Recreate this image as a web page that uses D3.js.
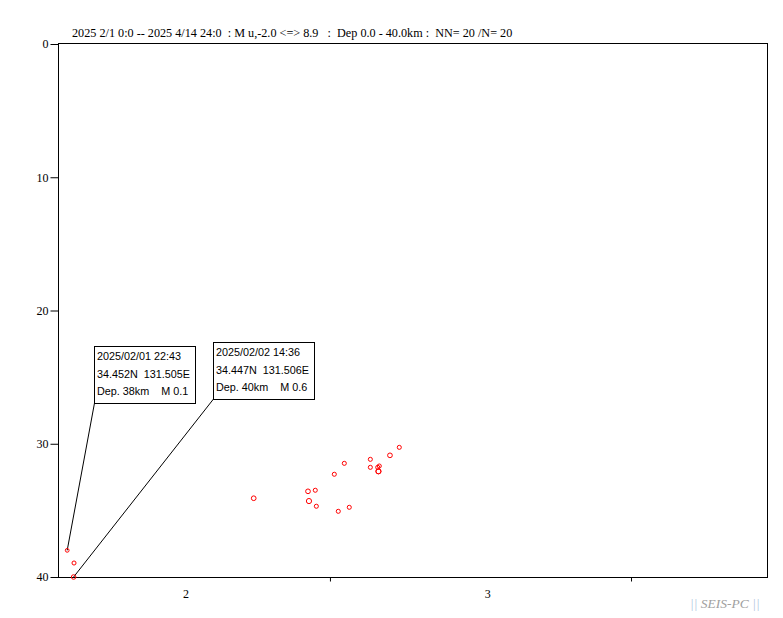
<!DOCTYPE html>
<html><head><meta charset="utf-8">
<script src="https://cdn.jsdelivr.net/npm/d3@7"></script>
<style>body{margin:0;background:#fff}svg{display:block}</style>
</head><body>
<svg id="c" width="783" height="618"></svg>
<script>
const titleText = "2025 2/1 0:0 -- 2025 4/14 24:0  : M u,-2.0 <=> 8.9   :  Dep 0.0 - 40.0km :  NN= 20 /N= 20";
const times = [
  "2025-02-01T22:43","2025-02-02T14:36","2025-02-02T15:35",
  "2025-02-21T03:37","2025-02-26T17:46","2025-02-27T11:46","2025-02-26T20:10",
  "2025-02-27T14:24","2025-03-01T20:38","2025-03-02T23:46","2025-03-01T10:48",
  "2025-03-02T11:31","2025-03-05T03:50","2025-03-05T03:50","2025-03-05T22:05",
  "2025-03-06T01:55","2025-03-05T23:31","2025-03-06T00:10","2025-03-07T04:19","2025-03-08T03:22"
];
const depths = [38,40,38.95,34.09,33.57,33.49,34.30,34.69,35.07,34.77,32.29,31.47,31.17,31.77,31.77,31.67,32.07,32.07,30.87,30.27];
const mags   = [0.1,0.6,0.3,0.7,0.7,0.3,1.0,0.3,0.3,0.3,0.3,0.3,0.3,0.3,0.3,0.3,0.9,0.9,0.7,0.3];
const yTicks = [0,10,20,30,40];
const xTickDates = ["2025-03-01T00:00","2025-04-01T00:00"];
const xLabels = ["2","3"];
const xLabelDates = ["2025-02-14T04:00","2025-03-17T06:00"];
const notes = [
  {idx:0, lines:["2025/02/01 22:43","34.452N  131.505E","Dep. 38km    M 0.1"]},
  {idx:1, lines:["2025/02/02 14:36","34.447N  131.506E","Dep. 40km    M 0.6"]}
];
const noteBoxes = [[94,346],[213,342]];

const parse = s => new Date(s + ":00Z");
const svg = d3.select("#c");
const L = 58, R = 767, T = 43, B = 577;
const x = d3.scaleUtc().domain([parse("2025-02-01T00:00"), parse("2025-04-15T00:00")]).range([L, R]);
const y = d3.scaleLinear().domain([0, 40]).range([44, B]);
const r = d3.scaleLinear().domain([0, 1]).range([1.8, 2.6]);

// title
svg.append("text").attr("x", 72).attr("y", 37)
  .attr("font-family", "Liberation Serif").attr("font-size", 12.2)
  .style("white-space", "pre").attr("fill", "#000").text(titleText);

// frame
svg.append("rect").attr("x", L + 0.5).attr("y", T + 0.5).attr("width", R - L).attr("height", B - T)
  .attr("fill", "none").attr("stroke", "#000").attr("stroke-width", 1);

// y axis
const yAxis = d3.axisLeft(y).tickValues(yTicks).tickSize(8).tickPadding(2).tickFormat(d3.format("d"));
const gy = svg.append("g").attr("transform", `translate(${L + 0.5},0)`).call(yAxis);
gy.select(".domain").remove();
gy.selectAll("text").attr("font-family", "Liberation Serif").attr("font-size", 12)
  .attr("font-weight", "normal").attr("fill", "#000");
gy.selectAll("line").attr("stroke", "#000");

// x axis ticks
const xAxis = d3.axisBottom(x).tickValues(xTickDates.map(parse)).tickSize(4).tickFormat("");
const gx = svg.append("g").attr("transform", `translate(0,${B + 0.5})`).call(xAxis);
gx.select(".domain").remove();
gx.selectAll("line").attr("stroke", "#000");
// x labels
svg.selectAll(".xl").data(xLabels).enter().append("text")
  .attr("x", (d, i) => x(parse(xLabelDates[i]))).attr("y", 598)
  .attr("text-anchor", "middle").attr("font-family", "Liberation Serif").attr("font-size", 12)
  .text(d => d);

// annotations
notes.forEach((n, k) => {
  const [bx, by] = noteBoxes[k];
  const px = x(parse(times[n.idx])), py = y(depths[n.idx]);
  svg.append("line").attr("x1", bx + 0.5).attr("y1", by + 57).attr("x2", px).attr("y2", py)
    .attr("stroke", "#000").attr("stroke-width", 1);
  svg.append("rect").attr("x", bx + 0.5).attr("y", by + 0.5).attr("width", 101).attr("height", 57)
    .attr("fill", "#fff").attr("stroke", "#000").attr("stroke-width", 1);
  n.lines.forEach((t, j) => {
    svg.append("text").attr("x", bx + 3).attr("y", by + 14 + j * 17.5)
      .attr("font-family", "Liberation Sans").attr("font-size", 10.8)
      .style("white-space", "pre").text(t);
  });
});

// points
svg.selectAll(".pt").data(times).enter().append("circle")
  .attr("cx", d => x(parse(d))).attr("cy", (d, i) => y(depths[i]))
  .attr("r", (d, i) => r(mags[i])).attr("fill", "none").attr("stroke", "#f00").attr("stroke-width", 1);

// footer
const ft = svg.append("text").attr("x", 690).attr("y", 608)
  .attr("font-family", "Liberation Serif").attr("font-size", 13.5).attr("font-style", "italic")
  .style("white-space", "pre");
ft.append("tspan").attr("fill", "#b0c4de").text("|| ");
ft.append("tspan").attr("fill", "#a0a0a0").text("SEIS-PC");
ft.append("tspan").attr("fill", "#b0c4de").text(" ||");
</script>
</body></html>
